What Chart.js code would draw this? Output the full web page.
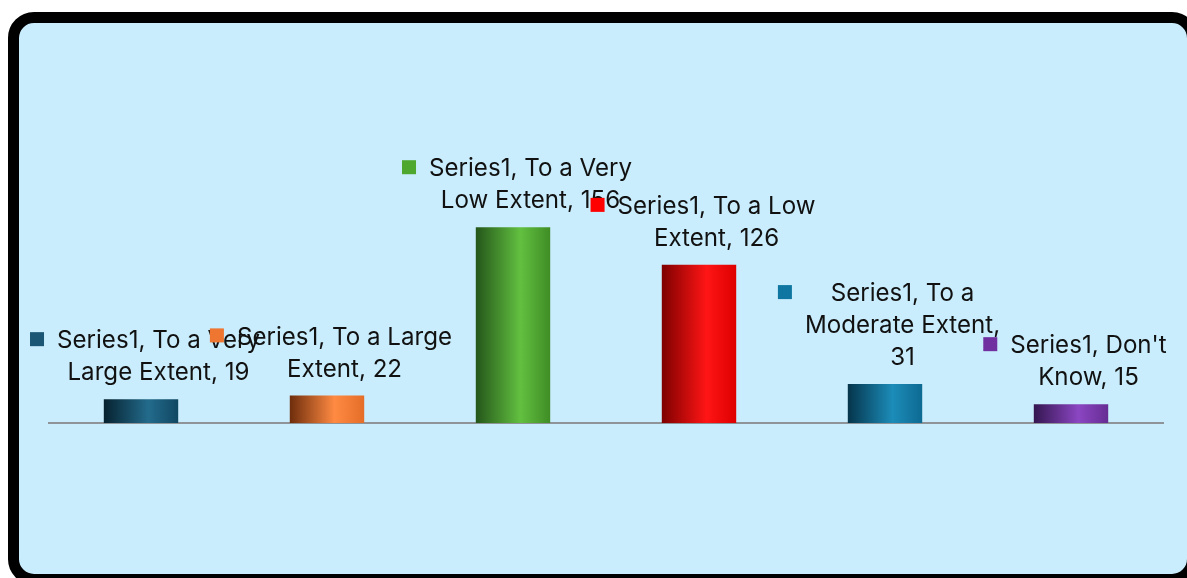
<!DOCTYPE html>
<html>
<head>
<meta charset="utf-8">
<script src="https://cdn.jsdelivr.net/npm/chart.js@4.4.1/dist/chart.umd.min.js"></script>
<style>
  html, body { margin: 0; padding: 0; background: #ffffff; width: 1187px; height: 578px; overflow: hidden; }
  #frame { position: absolute; left: 8px; top: 12px; width: 1190px; height: 573px; box-sizing: border-box;
           border: 11px solid #000; border-radius: 26px; background: #c9edfc; }
  #c { position: absolute; left: 0; top: 0; }
</style>
</head>
<body>
<div id="frame"></div>
<canvas id="c" width="1187" height="578"></canvas>
<script>
const seriesName = "Series1";
const categories = ["To a Very Large Extent", "To a Large Extent", "To a Very Low Extent", "To a Low Extent", "To a Moderate Extent", "Don't Know"];
const values = [19, 22, 156, 126, 31, 15];
const labelLines = [
  ["Series1, To a Very", "Large Extent, 19"],
  ["Series1, To a Large", "Extent, 22"],
  ["Series1, To a Very", "Low Extent, 156"],
  ["Series1, To a Low", "Extent, 126"],
  ["Series1, To a", "Moderate Extent,", "31"],
  ["Series1, Don't", "Know, 15"]
];
const markerColors = ["#1b5674", "#ee7630", "#4ea72e", "#ff0000", "#0e76a0", "#7030a0"];
const gradStops = [
  ["#06222f", "#236b8c", "#104762"],
  ["#6e2d0c", "#ff8a42", "#e46e28"],
  ["#24561a", "#62c040", "#3f8d25"],
  ["#7e0000", "#ff1515", "#de0000"],
  ["#05354b", "#1c8cb9", "#0d6a92"],
  ["#341650", "#8b46c2", "#662c93"]
];

const FONT_FAMILY = "Inter, 'Noto Sans', sans-serif";
function fitFontSize(ctx) {
  ctx.font = "100px " + FONT_FAMILY;
  const w = ctx.measureText("Series1, To a Very").width;
  return 100 * 203 / w;
}

function barGradient(context) {
  const chart = context.chart;
  const i = context.dataIndex;
  const xs = chart.scales.x;
  if (!chart.chartArea || !xs) return markerColors[i];
  const cx = xs.getPixelForValue(i);
  const half = (xs.width / categories.length) * 0.4 / 2;
  const g = chart.ctx.createLinearGradient(cx - half, 0, cx + half, 0);
  const s = gradStops[i];
  g.addColorStop(0, s[0]);
  g.addColorStop(0.6, s[1]);
  g.addColorStop(1, s[2]);
  return g;
}

const baselinePlugin = {
  id: 'baseline',
  beforeDatasetsDraw(chart) {
    const ctx = chart.ctx;
    const y = chart.scales.y.getPixelForValue(0);
    ctx.save();
    ctx.strokeStyle = "#8e9498";
    ctx.lineWidth = 2;
    ctx.beginPath();
    ctx.moveTo(chart.chartArea.left, y);
    ctx.lineTo(chart.chartArea.right, y);
    ctx.stroke();
    ctx.restore();
  }
};

const labelPlugin = {
  id: 'dataLabels',
  afterDatasetsDraw(chart) {
    const ctx = chart.ctx;
    const meta = chart.getDatasetMeta(0);
    ctx.save();
    const fs = fitFontSize(ctx);
    ctx.font = fs.toFixed(2) + "px " + FONT_FAMILY;
    ctx.textBaseline = "middle";
    ctx.textAlign = "center";
    const lineH = 32, markerSize = 14, gap = 13;
    meta.data.forEach((el, i) => {
      const lines = labelLines[i];
      const W = Math.max(...lines.map(l => ctx.measureText(l).width));
      const total = markerSize + gap + W;
      const left = el.x + 4 - total / 2;
      const n = lines.length;
      const lastY = el.y - 26;
      const firstY = lastY - (n - 1) * lineH;
      const textCx = left + markerSize + gap + W / 2;
      ctx.fillStyle = markerColors[i];
      ctx.fillRect(left, firstY - markerSize / 2 - 2, markerSize, markerSize);
      ctx.fillStyle = "#111111";
      lines.forEach((l, k) => ctx.fillText(l, textCx, firstY + k * lineH));
    });
    ctx.restore();
  }
};

new Chart(document.getElementById('c'), {
  type: 'bar',
  data: {
    labels: categories,
    datasets: [{
      label: seriesName,
      data: values,
      backgroundColor: barGradient,
      borderWidth: 0,
      barPercentage: 0.4,
      categoryPercentage: 1.0
    }]
  },
  options: {
    responsive: false,
    animation: false,
    layout: { padding: { left: 48, right: 23, top: 172, bottom: 155 } },
    plugins: { legend: { display: false }, tooltip: { enabled: false } },
    scales: {
      x: { display: false },
      y: { display: false, min: 0, max: 200 }
    }
  },
  plugins: [baselinePlugin, labelPlugin]
});
</script>
</body>
</html>
